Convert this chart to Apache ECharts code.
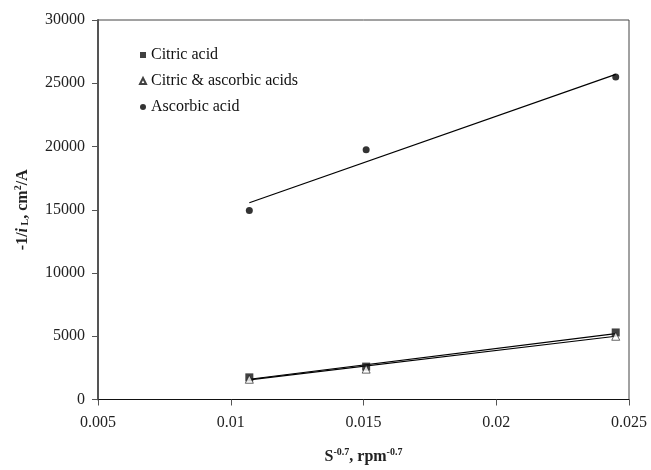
<!DOCTYPE html>
<html>
<head>
<meta charset="utf-8">
<script src="https://cdn.jsdelivr.net/npm/echarts@6/dist/echarts.min.js"></script>
<style>
  html, body { margin: 0; padding: 0; background: #fff; }
  #main { width: 651px; height: 470px; }
</style>
</head>
<body>
<div id="main"></div>
<script>
// x values: S^-0.7
var xVals = [0.0107, 0.0151, 0.0245];
// -1/iL values per series
var citric = [1750, 2600, 5300];
var citricAscorbic = [1600, 2400, 5000];
var ascorbic = [14950, 19750, 25500];
// trend line ends
var trendX = [0.0107, 0.0245];
var citricTrend = [1600, 5200];
var mixTrend = [1550, 5000];
var ascorbicTrend = [15550, 25700];

function pairs(xs, ys) {
    return xs.map(function (x, i) { return [x, ys[i]]; });
}

var myChart = echarts.init(document.getElementById('main'));
var serif = 'Liberation Serif';

function trend(data) {
    return {
        type: 'line',
        data: pairs(trendX, data),
        symbol: 'none',
        silent: true,
        lineStyle: { color: '#000', width: 1.2 },
        z: 1
    };
}

option = {
    animation: false,
    backgroundColor: '#fff',
    textStyle: { fontFamily: serif },
    grid: {
        left: 98, right: 22, top: 20, bottom: 70,
        show: true,
        borderColor: '#444',
        borderWidth: 1
    },
    legend: {
        orient: 'vertical',
        left: 134,
        top: 42,
        itemWidth: 6,
        itemHeight: 6,
        itemGap: 10,
        textStyle: { fontFamily: serif, fontSize: 16, color: '#111' },
        data: [
            { name: 'Citric acid', icon: 'rect' },
            { name: 'Citric & ascorbic acids', icon: 'triangle' },
            { name: 'Ascorbic acid', icon: 'circle' }
        ]
    },
    xAxis: {
        type: 'value',
        min: 0.005,
        max: 0.025,
        interval: 0.005,
        splitLine: { show: false },
        axisLine: { lineStyle: { color: '#111', width: 1.2 } },
        axisTick: { inside: false, length: 6, lineStyle: { color: '#555' } },
        axisLabel: {
            fontFamily: serif, fontSize: 16, color: '#222', margin: 15,
            formatter: function (v) { return String(parseFloat(v.toFixed(3))); }
        },
        name: '{b|S}{sup|-0.7}{b|, rpm}{sup|-0.7}',
        nameLocation: 'middle',
        nameGap: 48,
        nameTextStyle: {
            rich: {
                b: { fontFamily: serif, fontSize: 16, fontWeight: 'bold', color: '#222' },
                sup: { fontFamily: serif, fontSize: 10, fontWeight: 'bold', color: '#222', padding: [0, 0, 9, 0] }
            }
        }
    },
    yAxis: {
        type: 'value',
        min: 0,
        max: 30000,
        interval: 5000,
        splitLine: { show: false },
        axisLine: { lineStyle: { color: '#555', width: 2 } },
        axisTick: { inside: false, length: 6, lineStyle: { color: '#555' } },
        axisLabel: {
            fontFamily: serif, fontSize: 16, color: '#222', margin: 13,
            formatter: function (v) { return String(v); }
        },
        name: '{b|-1/}{bi|i}{sub| L}{b|, cm}{sup|2}{b|/A}',
        nameLocation: 'middle',
        nameRotate: 90,
        nameGap: 66,
        nameTextStyle: {
            rich: {
                b: { fontFamily: serif, fontSize: 16, fontWeight: 'bold', color: '#222' },
                bi: { fontFamily: serif, fontSize: 16, fontWeight: 'bold', fontStyle: 'italic', color: '#222' },
                sub: { fontFamily: serif, fontSize: 10, fontWeight: 'bold', color: '#222', padding: [6, 0, 0, 0] },
                sup: { fontFamily: serif, fontSize: 10, fontWeight: 'bold', color: '#222', padding: [0, 0, 9, 0] }
            }
        }
    },
    series: [
        trend(citricTrend),
        trend(mixTrend),
        trend(ascorbicTrend),
        {
            name: 'Citric acid',
            type: 'scatter',
            data: pairs(xVals, citric),
            symbol: 'rect',
            symbolSize: 8,
            itemStyle: { color: '#111' },
            z: 3
        },
        {
            name: 'Citric & ascorbic acids',
            type: 'scatter',
            data: pairs(xVals, citricAscorbic),
            symbol: 'triangle',
            symbolSize: 8,
            itemStyle: { color: '#fff', borderColor: '#111', borderWidth: 0.8 },
            z: 4
        },
        {
            name: 'Ascorbic acid',
            type: 'scatter',
            data: pairs(xVals, ascorbic),
            symbol: 'circle',
            symbolSize: 7,
            itemStyle: { color: '#000' },
            z: 3
        }
    ]
};
myChart.setOption(option);
</script>
</body>
</html>
